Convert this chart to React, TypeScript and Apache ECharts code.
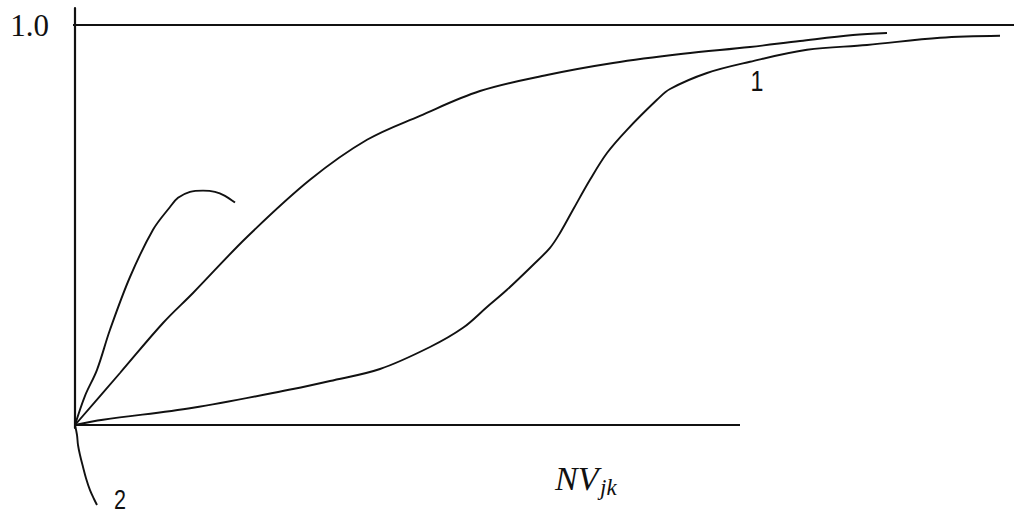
import React, { useEffect, useRef } from "react";
import * as echarts from "echarts";

// x in arbitrary units (0..9.39), y normalised (0 .. 1.0)
const humpX = [0, 0.1, 0.22, 0.35, 0.55, 0.78, 0.95, 1.03, 1.15, 1.28, 1.4, 1.5, 1.6];
const humpY = [0, 0.073, 0.138, 0.238, 0.37, 0.488, 0.545, 0.568, 0.583, 0.586, 0.583, 0.573, 0.556];

const concaveX = [0, 0.45, 0.88, 1.18, 1.72, 2.35, 2.92, 3.45, 4.05, 4.72, 5.38, 6.08, 6.75, 7.25, 7.78, 8.12];
const concaveY = [0, 0.13, 0.255, 0.33, 0.47, 0.613, 0.713, 0.773, 0.835, 0.875, 0.905, 0.928, 0.945, 0.96, 0.975, 0.98];

const sCurveX = [0, 0.28, 1.18, 2.18, 2.55, 3.05, 3.55, 3.88, 4.12, 4.32, 4.58, 4.75, 4.85, 4.98, 5.15, 5.32, 5.52, 5.82, 5.95, 6.32, 6.75, 7.32, 7.92, 8.65, 9.25];
const sCurveY = [0, 0.013, 0.043, 0.09, 0.11, 0.14, 0.195, 0.243, 0.295, 0.338, 0.4, 0.443, 0.48, 0.538, 0.613, 0.68, 0.738, 0.813, 0.84, 0.88, 0.908, 0.938, 0.95, 0.968, 0.973];

const dropX = [0, 0.02, 0.03, 0.05, 0.08, 0.11, 0.15, 0.19, 0.22];
const dropY = [0, -0.025, -0.05, -0.075, -0.105, -0.133, -0.163, -0.185, -0.2];

const topLineX = [-0.12, 9.39];
const topLineY = [1, 1];
const baseLineX = [0, 6.65];
const baseLineY = [0, 0];

const yTickValues = [1];
const yTickLabels = ["1.0"];
const curveLabels = ["1", "2"];
const xAxisName = ["NV", "jk"];

const zip = (xs: number[], ys: number[]) => xs.map((x, i) => [x, ys[i]]);

export default function App() {
  const ref = useRef<HTMLDivElement>(null);
  useEffect(() => {
    if (!ref.current) return;
    const chart = echarts.init(ref.current, null, { renderer: "svg" });
    const curve = (data: number[][], width = 1.9) => ({
      type: "line",
      data,
      showSymbol: false,
      symbol: "none",
      smooth: 0.35,
      clip: false,
      lineStyle: { color: "#111", width },
      silent: true,
    });
    chart.setOption({
      animation: false,
      backgroundColor: "#fff",
      grid: { left: 75, right: 0, top: 8, bottom: 87 },
      xAxis: {
        type: "value",
        min: 0,
        max: 9.39,
        axisLine: { show: false },
        axisTick: { show: false },
        axisLabel: { show: false },
        splitLine: { show: false },
      },
      yAxis: {
        type: "value",
        min: -0.0075,
        max: 1.0425,
        axisLine: { show: true, lineStyle: { color: "#111", width: 2.2 } },
        axisTick: { show: false },
        splitLine: { show: false },
        axisLabel: {
          show: true,
          customValues: yTickValues,
          formatter: (v: number) => {
            const i = yTickValues.indexOf(Math.round(v * 1000) / 1000);
            return i >= 0 ? yTickLabels[i] : "";
          },
          margin: 26,
          color: "#111",
          fontFamily: "Liberation Serif",
          fontSize: 31,
        },
      },
      graphic: [
        {
          type: "text",
          x: 757,
          y: 81,
          scaleX: 0.8,
          style: {
            text: curveLabels[0],
            fontFamily: "Liberation Sans",
            fontSize: 29,
            fill: "#111",
            align: "center",
            verticalAlign: "middle",
          },
        },
        {
          type: "text",
          x: 120,
          y: 500,
          scaleX: 0.8,
          style: {
            text: curveLabels[1],
            fontFamily: "Liberation Sans",
            fontSize: 27,
            fill: "#111",
            align: "center",
            verticalAlign: "middle",
          },
        },
        {
          type: "text",
          x: 555,
          y: 478,
          style: {
            text: xAxisName[0],
            fontFamily: "Liberation Serif",
            fontStyle: "italic",
            fontSize: 34,
            fill: "#111",
            align: "left",
            verticalAlign: "middle",
          },
        },
        {
          type: "text",
          x: 600,
          y: 487,
          style: {
            text: xAxisName[1],
            fontFamily: "Liberation Serif",
            fontStyle: "italic",
            fontSize: 23,
            fill: "#111",
            align: "left",
            verticalAlign: "middle",
          },
        },
      ],
      series: [
        { ...curve(zip(topLineX, topLineY), 2.2), smooth: false },
        { ...curve(zip(baseLineX, baseLineY), 2.2), smooth: false },
        curve(zip(humpX, humpY)),
        curve(zip(concaveX, concaveY)),
        curve(zip(sCurveX, sCurveY)),
        curve(zip(dropX, dropY)),
      ],
    });
    return () => chart.dispose();
  }, []);
  return (
    <div
      ref={ref}
      style={{ position: "fixed", left: 0, top: 0, width: 1014, height: 515, background: "#fff" }}
    />
  );
}
